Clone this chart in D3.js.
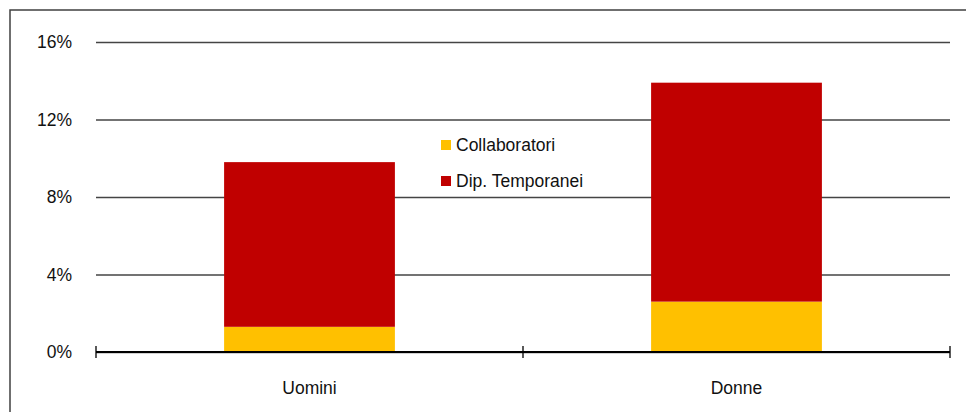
<!DOCTYPE html>
<html><head><meta charset="utf-8">
<script src="https://cdn.jsdelivr.net/npm/d3@7"></script>
<style>html,body{margin:0;padding:0;background:#fff;}svg{display:block;font-family:"Liberation Sans",Arial,sans-serif;}</style>
</head><body><svg id="c" width="966" height="412"></svg>
<script>
const categories = ["Uomini", "Donne"];
const seriesNames = ["Collaboratori", "Dip. Temporanei"];
const collaboratori = [1.3, 2.6];
const dipTemporanei = [8.5, 11.3];
const yTicks = [0, 4, 8, 12, 16];
const colors = ["#FFC000", "#C00000"];

const svg = d3.select("#c");
const m = {l: 96, r: 950, t: 42, b: 352};
svg.append("rect").attr("x", 10).attr("y", 10).attr("width", 970).attr("height", 420)
  .attr("fill", "none").attr("stroke", "#404040").attr("stroke-width", 1.5);

const x = d3.scaleBand().domain(categories).range([m.l, m.r]).paddingInner(0.6).paddingOuter(0.3);
const y = d3.scaleLinear().domain([0, 16]).range([m.b, m.t]);

const yAxis = svg.append("g").attr("transform", `translate(${m.l},0)`)
  .call(d3.axisLeft(y).tickValues(yTicks).tickFormat(d => d + "%").tickSize(-(m.r - m.l)).tickPadding(24));
yAxis.select(".domain").remove();
yAxis.selectAll(".tick line").attr("stroke", "#444").attr("stroke-width", 1.4);
yAxis.selectAll(".tick text").attr("font-size", 17.5).attr("fill", "#111").attr("font-family", "Liberation Sans, Arial, sans-serif");

const data = categories.map((c, i) => ({cat: c, Collaboratori: collaboratori[i], "Dip. Temporanei": dipTemporanei[i]}));
const stack = d3.stack().keys(seriesNames)(data);
svg.append("g").selectAll("g").data(stack).join("g").attr("fill", (d, i) => colors[i])
  .selectAll("rect").data(d => d).join("rect")
  .attr("x", d => x(d.data.cat)).attr("width", x.bandwidth())
  .attr("y", d => y(d[1])).attr("height", d => y(d[0]) - y(d[1]));

// x axis
const xa = svg.append("g");
xa.append("line").attr("x1", m.l).attr("x2", m.r).attr("y1", m.b).attr("y2", m.b).attr("stroke", "#000").attr("stroke-width", 2);
const bounds = [m.l, m.l + (m.r - m.l) / 2, m.r];
xa.selectAll("line.tk").data(bounds).join("line").attr("class", "tk")
  .attr("x1", d => d).attr("x2", d => d).attr("y1", m.b - 6).attr("y2", m.b + 6).attr("stroke", "#000").attr("stroke-width", 1.3);
xa.selectAll("text").data(categories).join("text")
  .attr("x", d => x(d) + x.bandwidth() / 2).attr("y", 394).attr("text-anchor", "middle")
  .attr("font-size", 17.5).attr("fill", "#111").text(d => d);

// legend
const lg = svg.append("g");
seriesNames.forEach((s, i) => {
  const yy = 145 + i * 36;
  lg.append("rect").attr("x", 441).attr("y", yy - 5).attr("width", 10).attr("height", 10).attr("fill", colors[i]);
  lg.append("text").attr("x", 456).attr("y", yy + 6).attr("font-size", 17.5).attr("fill", "#111").text(s);
});
</script></body></html>
